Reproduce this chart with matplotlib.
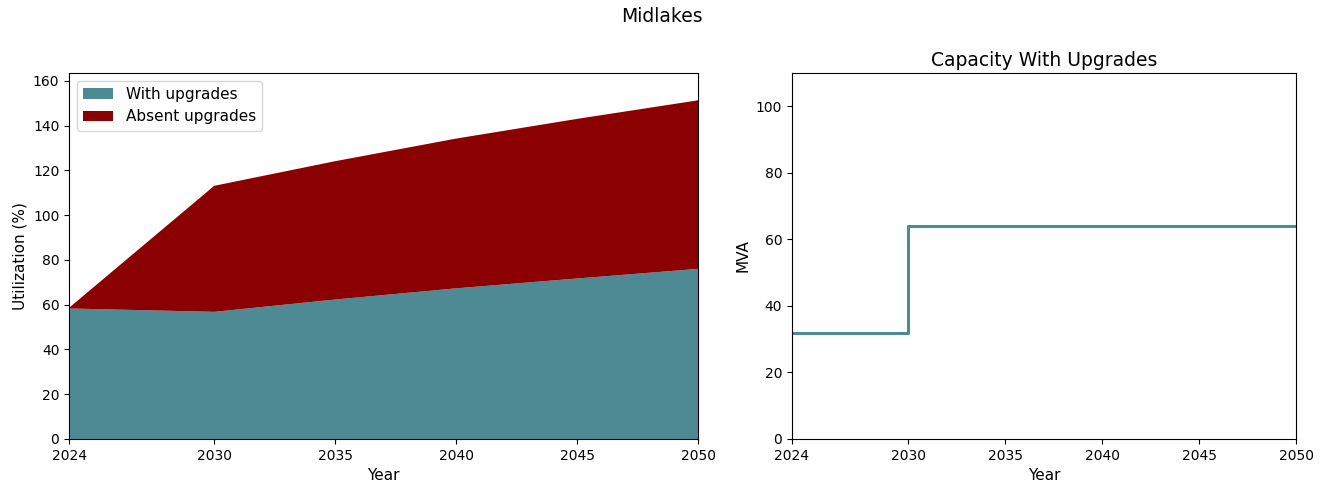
import numpy as np
import matplotlib
matplotlib.use("Agg")
import matplotlib.pyplot as plt

# Utilization data (%)
years = [2024, 2030, 2035, 2040, 2045, 2050]
with_upgrades = [58.3, 56.8, 62.3, 67.3, 71.7, 76.0]
absent_total = [58.6, 113.1, 124.1, 134.2, 143.0, 151.3]
absent_extra = [t - w for t, w in zip(absent_total, with_upgrades)]

# Capacity data (MVA)
cap_years = [2024, 2030, 2040, 2050]
cap_mva = [32, 64, 64, 64]

teal = "#4e8a94"
darkred = "#8b0000"
xticks = [2024, 2030, 2035, 2040, 2045, 2050]

fig = plt.figure(figsize=(13.23, 4.87), dpi=100)
fig.suptitle("Midlakes", y=0.985, fontsize=13.5)

# left: stacked utilization
ax1 = fig.add_axes([0.0522, 0.0986, 0.4754, 0.7515])
ax1.stackplot(years, with_upgrades, absent_extra, colors=[teal, darkred],
              labels=["With upgrades", "Absent upgrades"])
ax1.set_xlim(2024, 2050)
ax1.set_ylim(0, 163.5)
ax1.set_xticks(xticks)
ax1.set_xlabel("Year", fontsize=11)
ax1.set_ylabel("Utilization (%)", fontsize=11)
ax1.legend(loc="upper left", fontsize=11)

# right: capacity step line
ax2 = fig.add_axes([0.5986, 0.0986, 0.381, 0.7515])
ax2.step(cap_years, cap_mva, where="post", color=teal, linewidth=2.2)
ax2.set_xlim(2024, 2050)
ax2.set_ylim(0, 110)
ax2.set_xticks(xticks)
ax2.set_xlabel("Year", fontsize=11)
ax2.set_ylabel("MVA", fontsize=11)
ax2.set_title("Capacity With Upgrades", fontsize=13.5, pad=5)

fig.savefig("out.png", dpi=100)
